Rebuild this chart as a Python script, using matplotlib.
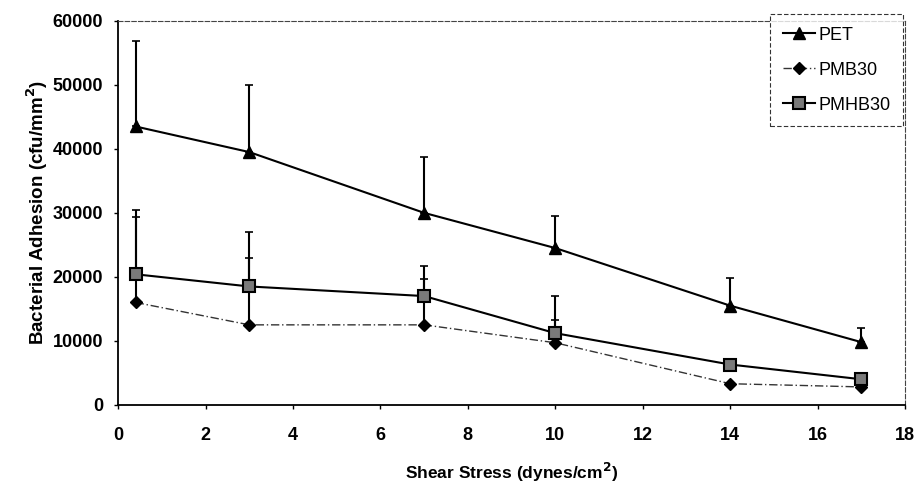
import matplotlib
matplotlib.use("Agg")
import matplotlib.pyplot as plt
import numpy as np

plt.rcParams['font.family'] = ['Liberation Sans', 'DejaVu Sans']

shear = [0.4, 3, 7, 10, 14, 17]
pet = [43500, 39500, 30000, 24500, 15500, 9800]
pet_err = [13300, 10500, 8800, 5000, 4300, 2200]
pmb30 = [16000, 12500, 12500, 9700, 3300, 2800]
pmb30_err = [13300, 10400, 7100, 3500, 0, 0]
pmhb30 = [20400, 18500, 17000, 11200, 6300, 4000]
pmhb30_err = [10100, 8500, 4700, 5800, 0, 0]

fig = plt.figure(figsize=(9.16, 4.86), dpi=100)
ax = fig.add_axes([0.129, 0.167, 0.859, 0.790])

def up(err):
    return [np.zeros(len(err)), err]

ekw = dict(fmt='none', ecolor='black', elinewidth=1.5, capsize=3, capthick=1.2, zorder=2)
ax.errorbar(shear, pmb30, yerr=up(pmb30_err), **ekw)
ax.errorbar(shear, pmhb30, yerr=up(pmhb30_err), **ekw)
ax.errorbar(shear, pet, yerr=up(pet_err), **ekw)

ax.plot(shear, pet, color='black', lw=1.5, marker='^', ms=9,
        mfc='black', mec='black', label='PET', zorder=4)
ax.plot(shear, pmb30, color='#333333', lw=1.0, ls=(0, (6, 2, 1, 2)), marker='D', ms=6.5,
        mfc='black', mec='black', label='PMB30', zorder=3)
ax.plot(shear, pmhb30, color='black', lw=1.5, marker='s', ms=8,
        mfc='#7a7a7a', mec='black', mew=1.5, label='PMHB30', zorder=4)

ax.set_xlim(0, 18)
ax.set_ylim(0, 60000)
ax.set_xticks(range(0, 19, 2))
ax.set_yticks(range(0, 60001, 10000))
ax.tick_params(axis='both', labelsize=13, direction='out', length=3, width=1)
for lab in ax.get_xticklabels() + ax.get_yticklabels():
    lab.set_fontweight('bold')
ax.tick_params(axis='x', pad=13)
ax.tick_params(axis='y', pad=8)

for side in ['top', 'right']:
    ax.spines[side].set_linestyle((0, (4, 2)))
    ax.spines[side].set_linewidth(0.8)
    ax.spines[side].set_color('#444444')
for side in ['left', 'bottom']:
    ax.spines[side].set_linewidth(1.3)

ax.set_xlabel('Shear Stress (dynes/cm$^\\mathbf{2}$)', fontsize=12.5, fontweight='bold', labelpad=12)
ax.set_ylabel('Bacterial Adhesion (cfu/mm$^\\mathbf{2}$)', fontsize=13.5, fontweight='bold', labelpad=1.5)

leg = ax.legend(loc='upper right', bbox_to_anchor=(0.998, 1.018), frameon=True, fancybox=False,
                fontsize=13, handlelength=1.8, handletextpad=0.2, borderpad=0.7,
                labelspacing=1.0, borderaxespad=0, edgecolor='black')
leg.get_frame().set_linestyle((0, (4, 2)))
leg.get_frame().set_linewidth(0.8)

fig.savefig('out.png', dpi=100)
